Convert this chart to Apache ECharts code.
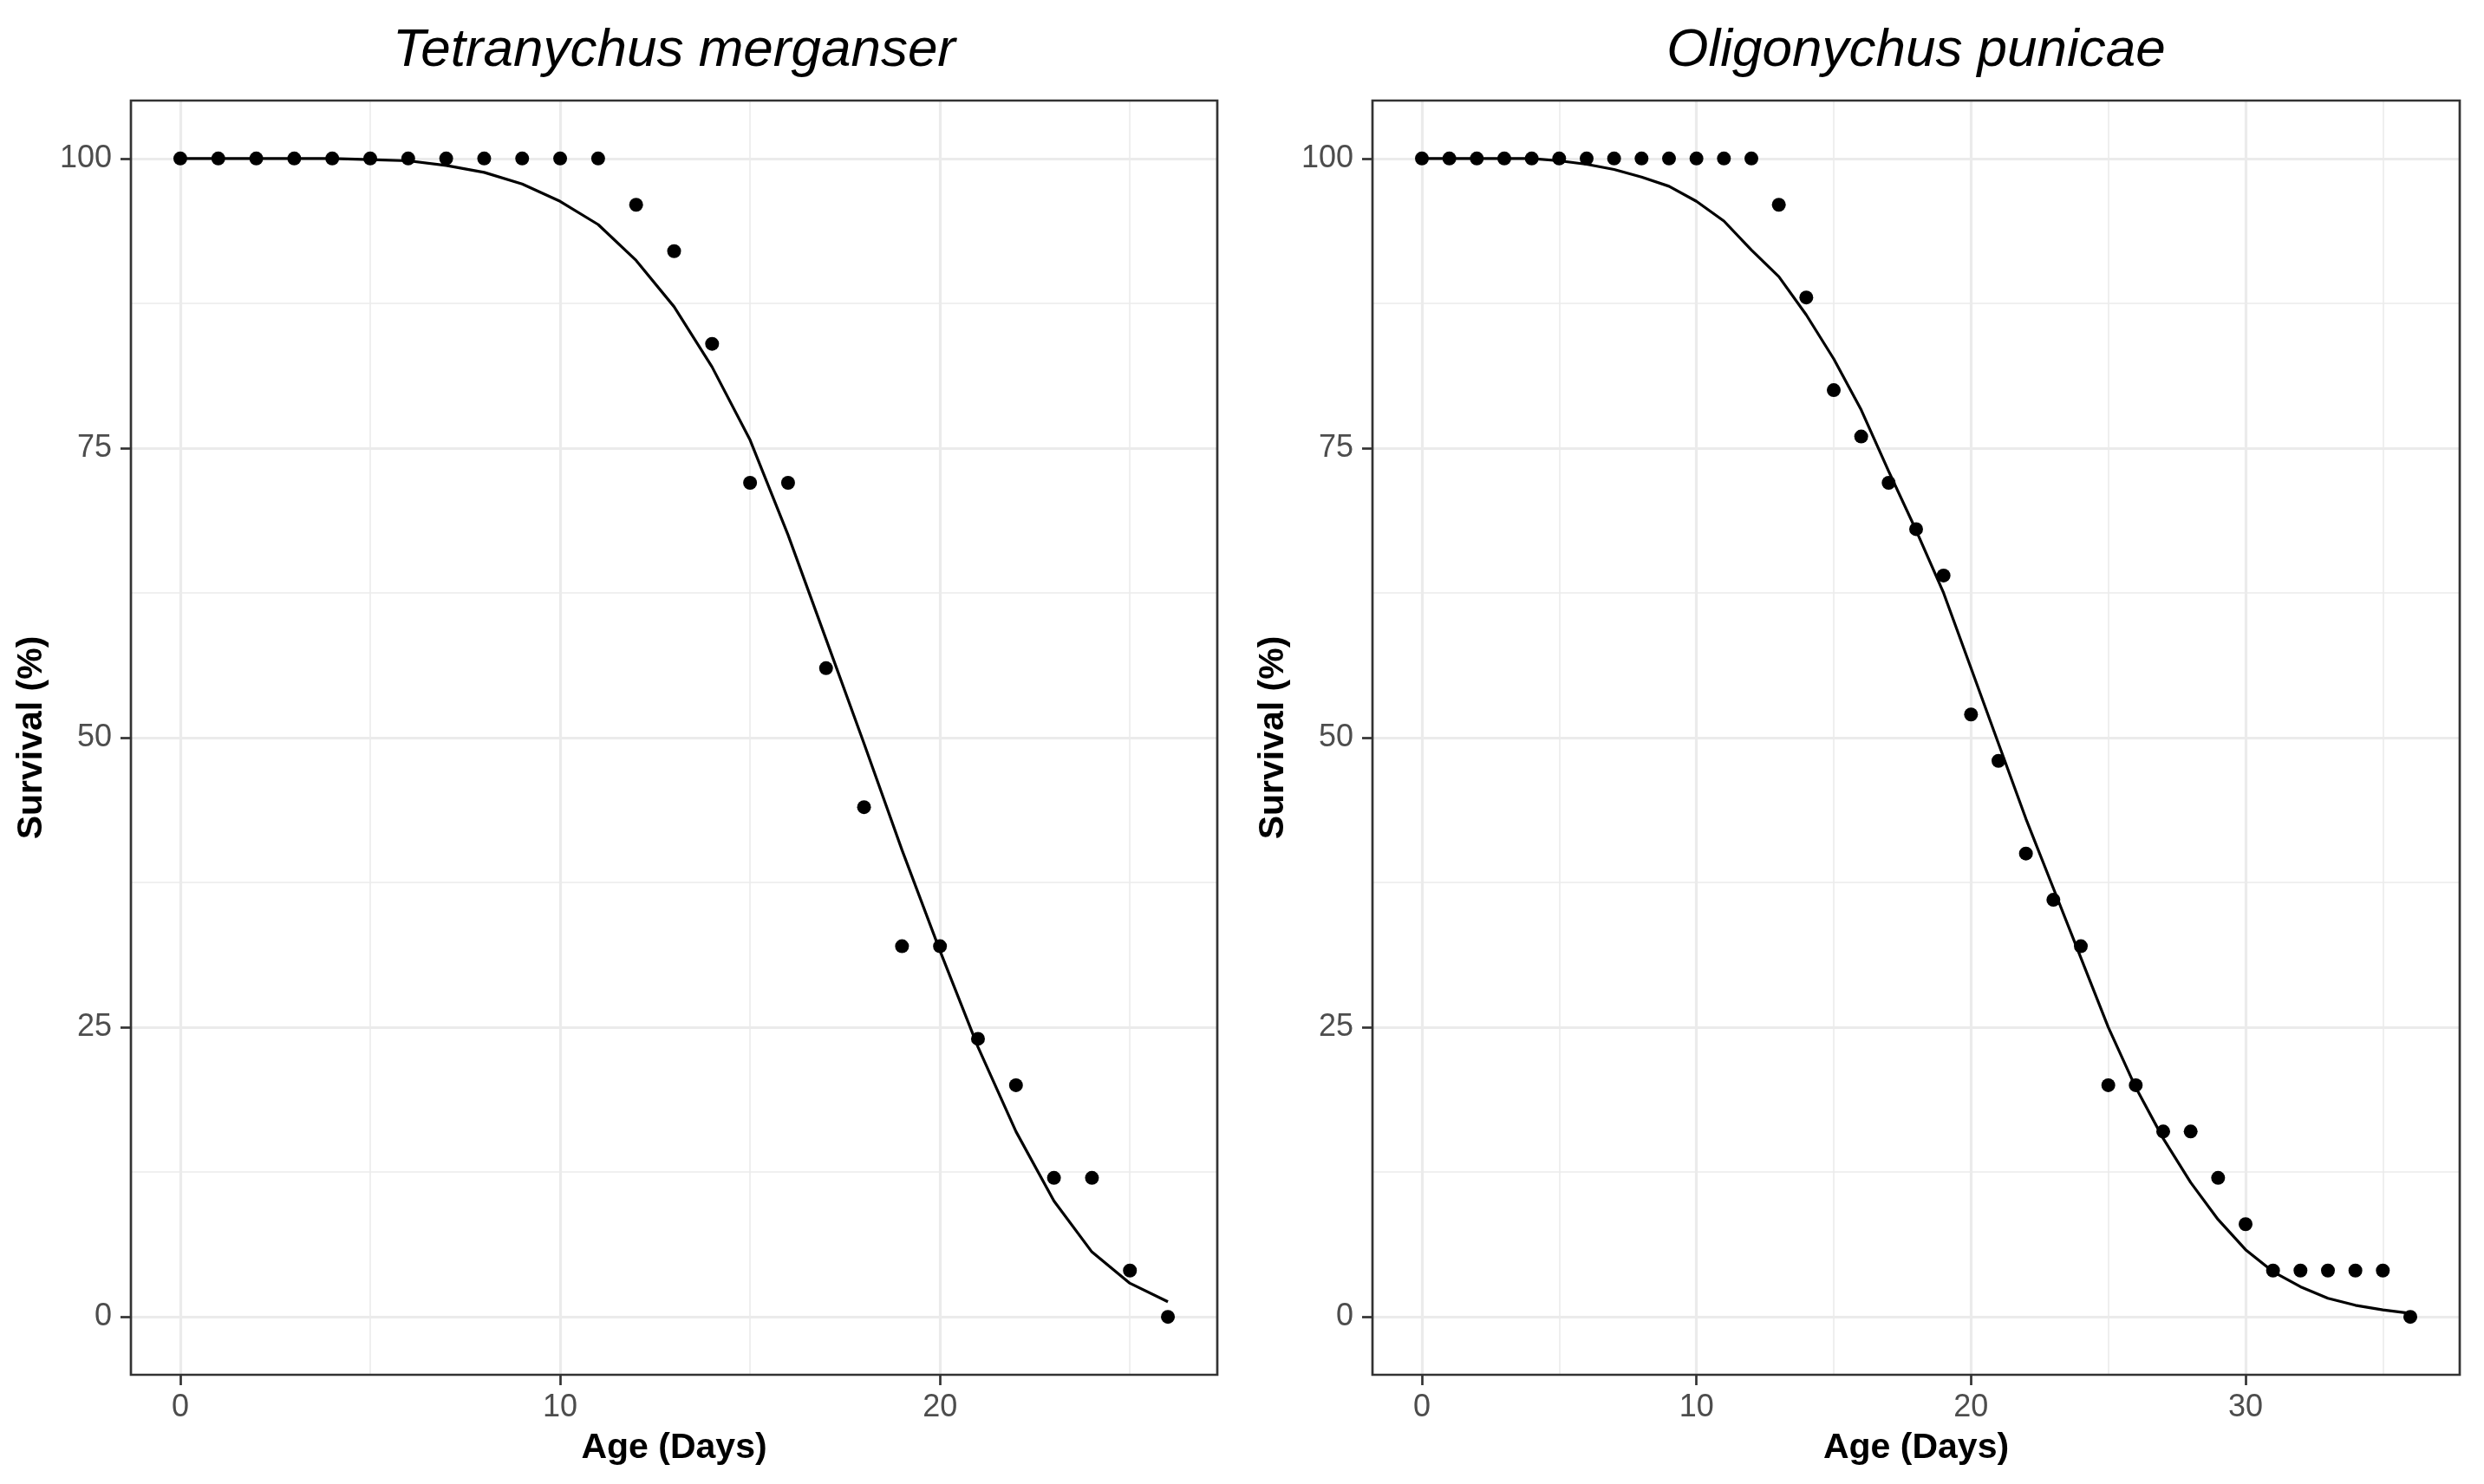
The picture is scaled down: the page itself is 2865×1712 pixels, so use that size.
<!DOCTYPE html>
<html>
<head>
<meta charset="utf-8">
<script src="https://cdn.jsdelivr.net/npm/echarts@6/dist/echarts.min.js"></script>
<style>
  html, body { margin: 0; padding: 0; background: #ffffff; }
  #chart { width: 2865px; height: 1712px; }
</style>
</head>
<body>
<div id="chart"></div>
<script>
// ---------------- data ----------------
const titles = ['Tetranychus merganser', 'Oligonychus punicae'];
const xAxisTitle = 'Age (Days)';
const yAxisTitle = 'Survival (%)';

const days1 = [0,1,2,3,4,5,6,7,8,9,10,11,12,13,14,15,16,17,18,19,20,21,22,23,24,25,26];
const survival1 = [100,100,100,100,100,100,100,100,100,100,100,100,96,92,84,72,72,56,44,32,32,24,20,12,12,4,0];
const fitted1 = [100,100,100,100,100,99.9,99.8,99.4,98.8,97.8,96.3,94.3,91.2,87.2,82.0,75.7,67.5,58.5,49.5,40.3,31.6,23.3,16.0,10.0,5.6,2.9,1.3];

const days2 = [0,1,2,3,4,5,6,7,8,9,10,11,12,13,14,15,16,17,18,19,20,21,22,23,24,25,26,27,28,29,30,31,32,33,34,35,36];
const survival2 = [100,100,100,100,100,100,100,100,100,100,100,100,100,96,88,80,76,72,68,64,52,48,40,36,32,20,20,16,16,12,8,4,4,4,4,4,0];
const fitted2 = [100,100,100,100,100,99.8,99.5,99.05,98.4,97.6,96.3,94.6,92.1,89.8,86.5,82.7,78.3,73.0,67.9,62.5,56.0,49.5,43.0,37.0,31.0,25.0,19.8,15.4,11.6,8.4,5.8,3.9,2.6,1.6,1.0,0.6,0.3];

const yTicks = [0,25,50,75,100];
const yMinor = [12.5,37.5,62.5,87.5];
const x1Ticks = [0,10,20];
const x1Minor = [5,15,25];
const x2Ticks = [0,10,20,30];
const x2Minor = [5,15,25,35];

const x1Range = [-1.3, 27.3];
const x2Range = [-1.8, 37.8];
const yRange = [-5, 105];

// ---------------- layout / style ----------------
const FONT = '"Liberation Sans", Arial, Helvetica, sans-serif';
const grids = [
  { left: 151, top: 116, width: 1253, height: 1470 },
  { left: 1583, top: 116, width: 1254, height: 1470 }
];
const MAJOR_W = 3.2, MINOR_W = 1.6, GRID_C = '#EBEBEB';

function zip(xs, ys) { return xs.map((x, i) => [x, ys[i]]); }

function gridLines(xMaj, xMin) {
  const d = [];
  yTicks.forEach(v => d.push({ yAxis: v, lineStyle: { width: MAJOR_W } }));
  yMinor.forEach(v => d.push({ yAxis: v, lineStyle: { width: MINOR_W } }));
  xMaj.forEach(v => d.push({ xAxis: v, lineStyle: { width: MAJOR_W } }));
  xMin.forEach(v => d.push({ xAxis: v, lineStyle: { width: MINOR_W } }));
  return d;
}

function makeX(idx, range, ticks) {
  return {
    gridIndex: idx, type: 'value', min: range[0], max: range[1],
    axisLine: { show: false, onZero: false },
    axisTick: { show: true, customValues: ticks, length: 12, lineStyle: { color: '#333333', width: 2.7 } },
    axisLabel: { customValues: ticks, color: '#4D4D4D', fontSize: 36, fontFamily: FONT, margin: 20 },
    splitLine: { show: false }, minorSplitLine: { show: false },
    name: xAxisTitle, nameLocation: 'middle', nameGap: 64,
    nameTextStyle: { fontSize: 41, fontWeight: 'bold', color: '#000000', fontFamily: FONT }
  };
}
function makeY(idx) {
  return {
    gridIndex: idx, type: 'value', min: yRange[0], max: yRange[1],
    axisLine: { show: false, onZero: false },
    axisTick: { show: true, customValues: yTicks, length: 12, lineStyle: { color: '#333333', width: 2.7 } },
    axisLabel: { customValues: yTicks, color: '#4D4D4D', fontSize: 36, fontFamily: FONT, margin: 22 },
    splitLine: { show: false }, minorSplitLine: { show: false },
    name: yAxisTitle, nameLocation: 'middle', nameGap: 94, nameRotate: 90,
    nameTextStyle: { fontSize: 41, fontWeight: 'bold', color: '#000000', fontFamily: FONT }
  };
}

function makeSeries(idx, days, surv, fit, xMaj, xMin) {
  return [
    {
      type: 'line', xAxisIndex: idx, yAxisIndex: idx, data: zip(days, fit),
      showSymbol: false, symbol: 'none', smooth: false, z: 4,
      lineStyle: { color: '#000000', width: 3.2, opacity: 1 }, silent: true
    },
    {
      type: 'scatter', xAxisIndex: idx, yAxisIndex: idx, data: zip(days, surv),
      symbol: 'circle', symbolSize: 16, z: 5, silent: true,
      itemStyle: { color: '#000000', opacity: 1 },
      markLine: {
        silent: true, symbol: ['none', 'none'], z: 1, animation: false,
        label: { show: false },
        lineStyle: { type: 'solid', color: GRID_C, opacity: 1 },
        emphasis: { disabled: true },
        data: gridLines(xMaj, xMin)
      }
    }
  ];
}

const chart = echarts.init(document.getElementById('chart'), null, { renderer: 'canvas' });
chart.setOption({
  animation: false,
  backgroundColor: '#ffffff',
  textStyle: { fontFamily: FONT },
  grid: grids.map(g => Object.assign({
    show: true, borderColor: '#333333', borderWidth: 2.7,
    backgroundColor: 'transparent', z: 10, containLabel: false, outerBoundsMode: 'none'
  }, g)),
  xAxis: [makeX(0, x1Range, x1Ticks), makeX(1, x2Range, x2Ticks)],
  yAxis: [makeY(0), makeY(1)],
  series: [].concat(
    makeSeries(0, days1, survival1, fitted1, x1Ticks, x1Minor),
    makeSeries(1, days2, survival2, fitted2, x2Ticks, x2Minor)
  ),
  graphic: titles.map((t, i) => ({
    type: 'text',
    x: grids[i].left + grids[i].width / 2,
    y: 59,
    style: {
      text: t, fill: '#000000',
      fontSize: 62, fontStyle: 'italic', fontFamily: FONT,
      align: 'center', verticalAlign: 'middle',
      textAlign: 'center', textVerticalAlign: 'middle'
    }
  }))
});
</script>
</body>
</html>
